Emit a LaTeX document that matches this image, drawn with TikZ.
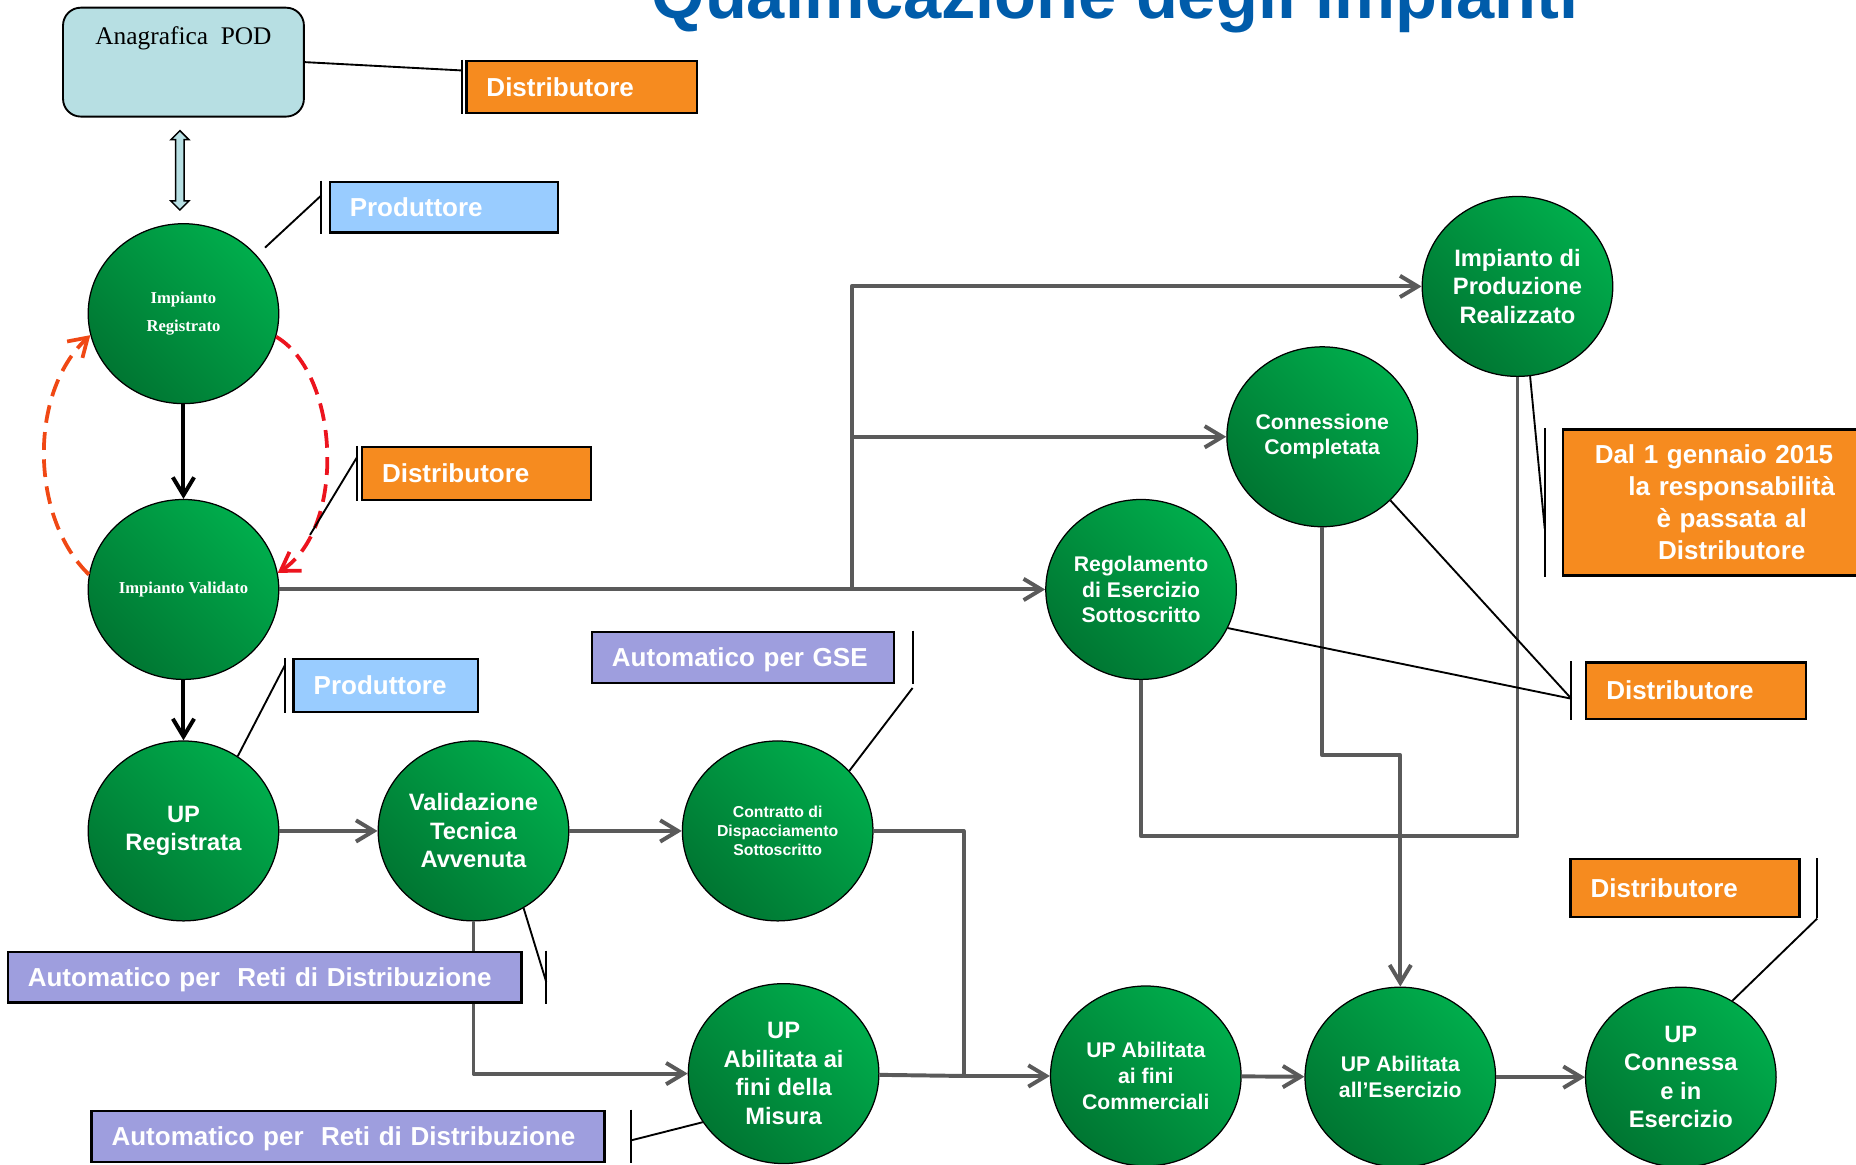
\documentclass[tikz,border=0pt]{standalone}
\usepackage{fontspec}
\setsansfont{Liberation Sans}
\newfontfamily\podserif{Liberation Serif}
\usepackage{tikz}
\usetikzlibrary{arrows.meta,positioning,calc,shapes.geometric,shapes.arrows}

\definecolor{stageLight}{RGB}{0,173,76}
\definecolor{stageDark}{RGB}{0,118,50}
\definecolor{lineGray}{RGB}{90,90,90}
\definecolor{distOrange}{RGB}{246,139,31}
\definecolor{prodBlue}{RGB}{153,204,255}
\definecolor{autoViolet}{RGB}{158,158,222}
\definecolor{anagFill}{RGB}{183,223,227}
\definecolor{titleBlue}{RGB}{0,92,170}
\definecolor{loopOrange}{RGB}{240,72,20}
\definecolor{loopRed}{RGB}{236,20,30}

\tikzset{
  stage/.style={ellipse, draw=black, line width=0.6pt, minimum width=3.22cm, minimum height=3.04cm,
    inner sep=0pt, top color=stageLight, bottom color=stageDark, shading angle=-45,
    text=white, align=center, font=\fontsize{11.4}{13.7}\selectfont\sffamily\bfseries},
  stagemid/.style={stage, font=\fontsize{10.2}{12.4}\selectfont\sffamily\bfseries},
  stagesmall/.style={stage, font=\fontsize{7.6}{9.1}\selectfont\sffamily\bfseries},
  stageserif/.style={stage, font=\fontsize{8}{13.7}\selectfont\podserif\bfseries},
  anabox/.style={draw=black, line width=0.9pt, rounded corners=0.3cm, fill=anagFill,
    minimum width=4.07cm, minimum height=1.84cm},
  podarrow/.style={double arrow, draw=black, line width=0.7pt, fill=anagFill, inner sep=0.06cm,
    minimum height=1.34cm, double arrow head extend=0.08cm, shape border rotate=90},
  titletext/.style={text=titleBlue, font=\fontsize{33}{40}\selectfont\sffamily\bfseries},
  flow/.style={draw=lineGray, line width=1.9pt, line join=round,
    -{Straight Barb[length=0.3cm,width=0.36cm]}},
  flowline/.style={draw=lineGray, line width=1.9pt, line join=round},
  advance/.style={draw=black, line width=1.9pt, -{Straight Barb[length=0.3cm,width=0.36cm]}},
  backflow/.style={line width=1.8pt, dash pattern=on 0.3cm off 0.16cm,
    -{Straight Barb[length=0.3cm,width=0.38cm]}},
  rolebase/.style={draw=black, line width=1.1pt, text=white, inner xsep=0.34cm, inner ysep=0pt,
    font=\fontsize{12.5}{15.4}\selectfont\sffamily\bfseries},
  rolebox/.style={rolebase, align=left, text height=0.315cm, text depth=0pt},
  accent/.style={draw=black, line width=0.9pt},
  leader/.style={draw=black, line width=0.9pt}
}

\begin{document}
\begin{tikzpicture}
    \useasboundingbox (0,0) rectangle (31.36,19.68);

    % Title (cut at the top)
    \node[titletext, anchor=base] (title) at (18.84,19.36) {Qualificazione degli impianti};

    % POD registry
    \node[anabox] (anag) at (3.10,18.63) {};
    \node[anchor=base, font=\fontsize{12.2}{14}\selectfont\podserif] (anagtxt) at (3.10,18.92) {Anagrafica\ \ POD};

    % Plant states
    \node[stageserif] (regist) at (3.10,14.38) {Impianto\\Registrato};
    \node[stageserif] (valid) at (3.10,9.72) {Impianto Validato};
    \node[stage] (upreg) at (3.10,5.64) {UP\\Registrata};
    \node[stage] (valtec) at (8.00,5.64) {Validazione\\Tecnica\\Avvenuta};
    \node[stagesmall] (contr) at (13.14,5.64) {Contratto di\\Dispacciamento\\Sottoscritto};
    \node[stage] (misura) at (13.24,1.54) {UP\\Abilitata ai\\fini della\\Misura};
    \node[stagemid] (commerc) at (19.36,1.50) {UP Abilitata\\ai fini\\Commerciali};
    \node[stagemid] (eserc) at (23.66,1.48) {UP Abilitata\\all’Esercizio};
    \node[stage] (connessa) at (28.40,1.48) {UP\\Connessa\\e in\\Esercizio};
    \node[stagemid] (regol) at (19.28,9.72) {Regolamento\\di Esercizio\\Sottoscritto};
    \node[stagemid, font=\fontsize{10.2}{12}\selectfont\sffamily\bfseries] (conncomp) at (22.34,12.30) {Connessione\\Completata};
    \node[stage] (realiz) at (25.64,14.84) {Impianto di\\Produzione\\Realizzato};

    % Link registry <-> plant
    \node[podarrow] (podlink) at ($(anag.south)!0.5!(regist.north)+(-0.06,0)$) {};

    % Validation chain
    \draw[advance] (regist) -- (valid);
    \draw[advance] (valid) -- (upreg);
    \draw[backflow, draw=loopOrange] (valid.171) .. controls (0.52,10.92) and (0.47,13.03) .. (regist.193);
    \draw[backflow, draw=loopRed] (regist.-14) .. controls (5.75,13.35) and (5.85,10.75) .. (valid.10)
        coordinate[pos=0.8] (loopmark);

    % Unit flow
    \draw[flow] (upreg) -- (valtec);
    \draw[flow] (valtec) -- (contr);
    \draw[flow] (valtec) |- (misura);
    \coordinate (mjoin) at (16.28,1.50);
    \draw[flow] (contr) -| (mjoin) -- (commerc);
    \draw[flowline] (misura) -- (mjoin);
    \draw[flow] (commerc) -- (eserc);
    \draw[flow] (eserc) -- (connessa);

    % Plant flow
    \draw[flow] (valid) -- (regol);
    \coordinate (split) at (14.39,9.72);
    \draw[flow] (split) |- (realiz);
    \draw[flow] (split) |- (conncomp);
    \coordinate (ejoin) at (23.66,6.92);
    \coordinate (merge) at (23.66,5.55);
    \draw[flow] (conncomp) |- (ejoin) -- (eserc);
    \draw[flowline] (regol) |- (merge);
    \draw[flowline] (realiz) |- (merge);

    % Responsibility boxes
    \node[rolebox, fill=distOrange, text width=3.22cm, minimum height=0.88cm] (d1) at (9.83,18.21) {Distributore};
    \node[rolebox, fill=prodBlue, text width=3.18cm, minimum height=0.86cm] (p1) at (7.50,16.18) {Produttore};
    \node[rolebox, fill=distOrange, text width=3.19cm, minimum height=0.89cm] (d2) at (8.05,11.68) {Distributore};
    \node[rolebox, fill=prodBlue, text width=2.44cm, minimum height=0.89cm] (p2) at (6.52,8.10) {Produttore};
    \node[rolebox, fill=autoViolet, text width=4.42cm, minimum height=0.87cm] (gse) at (12.55,8.57) {Automatico per GSE};
    \node[rolebox, fill=autoViolet, text width=8.00cm, minimum height=0.86cm] (autoA) at (4.47,3.17) {Automatico per\ \ Reti di Distribuzione};
    \node[rolebox, fill=autoViolet, text width=7.99cm, minimum height=0.86cm] (autoB) at (5.88,0.48) {Automatico per\ \ Reti di Distribuzione};
    \node[rolebase, fill=distOrange, align=center, text width=5.02cm, minimum height=2.47cm] (dal) at (29.26,11.19)
        {Dal 1 gennaio 2015\rule{0.6cm}{0pt}\\la responsabilità\\è passata al\\Distributore};
    \node[rolebox, fill=distOrange, text width=3.04cm, minimum height=0.95cm] (d4) at (28.66,8.01) {Distributore};
    \node[rolebox, fill=distOrange, text width=3.19cm, minimum height=0.98cm] (d5) at (28.47,4.67) {Distributore};

    % Callouts
    \draw[accent] ($(d1.north west)+(-0.055,0)$) -- ($(d1.south west)+(-0.055,0)$);
    \draw[leader] (anag.east) -- ($(d1.north west)+(-0.055,-0.18)$);
    \draw[accent] ($(p1.north west)+(-0.12,0)$) -- ($(p1.south west)+(-0.12,0)$);
    \draw[leader] ($(regist.center)!1.12!(regist.39)$) -- ($(p1.north west)+(-0.12,-0.25)$);
    \draw[accent] ($(d2.north west)+(-0.07,0)$) -- ($(d2.south west)+(-0.07,0)$);
    \draw[leader] (loopmark) -- ($(d2.north west)+(-0.07,-0.2)$);
    \draw[accent] ($(p2.north west)+(-0.13,0)$) -- ($(p2.south west)+(-0.13,0)$);
    \draw[leader] (upreg.54) -- ($(p2.north west)+(-0.13,-0.13)$);
    \draw[accent] ($(gse.north east)+(0.3,0)$) -- ($(gse.south east)+(0.3,0)$);
    \draw[leader] (contr.40) -- ($(gse.south east)+(0.3,-0.06)$);
    \draw[accent] ($(autoA.north east)+(0.4,0)$) -- ($(autoA.south east)+(0.4,0)$);
    \draw[leader] (valtec.-57) -- ($(autoA.north east)+(0.4,-0.53)$);
    \draw[accent] ($(autoB.north east)+(0.42,0)$) -- ($(autoB.south east)+(0.42,0)$);
    \draw[leader] (misura.211) -- ($(autoB.north east)+(0.42,-0.52)$);
    \draw[accent] ($(dal.north west)+(-0.29,0)$) -- ($(dal.south west)+(-0.29,0)$);
    \draw[leader] (realiz.-82) -- ($(dal.north west)+(-0.29,-1.70)$);
    \coordinate (d4hook) at ($(d4.north west)+(-0.23,-0.63)$);
    \draw[accent] ($(d4.north west)+(-0.23,0)$) -- ($(d4.south west)+(-0.23,0)$);
    \draw[leader] (regol.-24) -- (d4hook);
    \draw[leader] (conncomp.-43) -- (d4hook);
    \draw[accent] ($(d5.north east)+(0.28,0)$) -- ($(d5.south east)+(0.28,0)$);
    \draw[leader] (connessa.56) -- ($(d5.south east)+(0.28,0)$);
\end{tikzpicture}
\end{document}
